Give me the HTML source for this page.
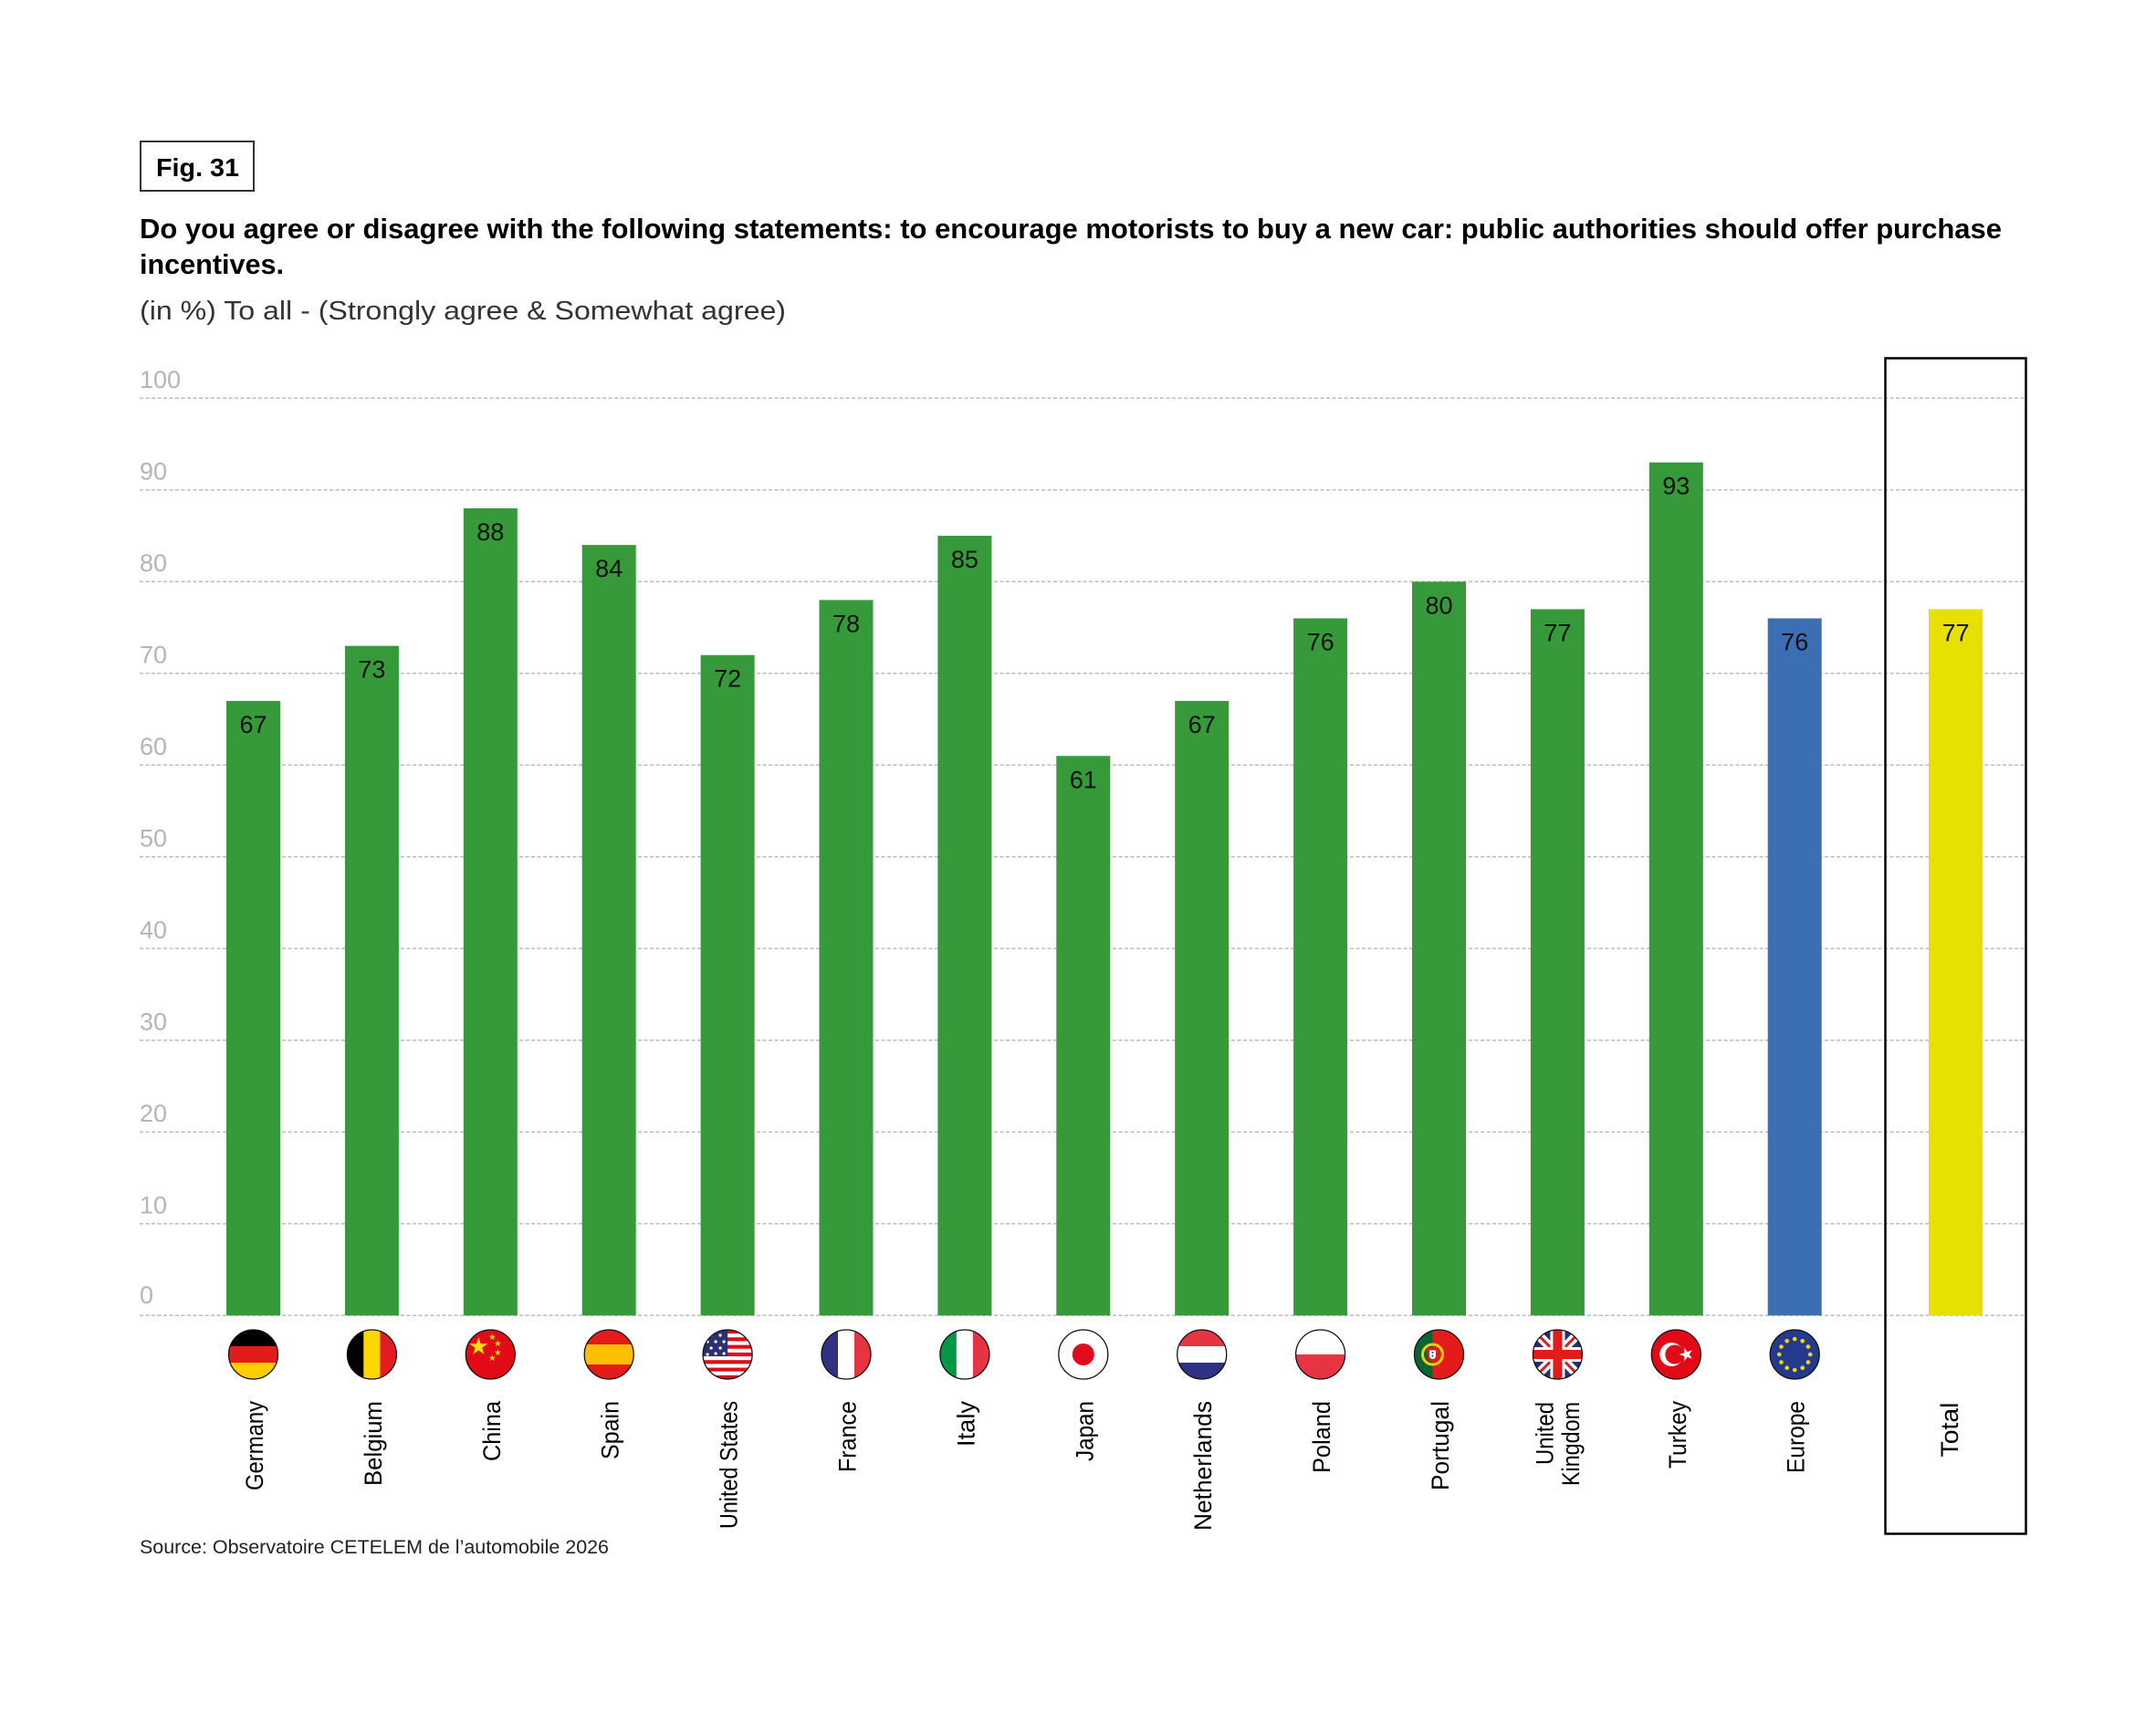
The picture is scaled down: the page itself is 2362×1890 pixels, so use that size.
<!DOCTYPE html>
<html>
<head>
<meta charset="utf-8">
<style>
html,body{margin:0;padding:0;background:#fff;}
svg{display:block;}
text{font-family:"Liberation Sans",Arial,sans-serif;}
</style>
</head>
<body>
<svg width="2362" height="1890" viewBox="0 0 2362 1890" xmlns="http://www.w3.org/2000/svg">
<defs>
  <clipPath id="fc"><circle cx="0" cy="0" r="27"/></clipPath>
</defs>
<rect width="2362" height="1890" fill="#fff"/>

<!-- Fig box -->
<rect x="154" y="155" width="124" height="54" fill="none" stroke="#333" stroke-width="2"/>
<text x="171" y="193" font-size="28" font-weight="bold" fill="#000" textLength="91" lengthAdjust="spacingAndGlyphs">Fig. 31</text>

<!-- Title -->
<text x="153" y="261" font-size="31" font-weight="bold" fill="#000" textLength="2040" lengthAdjust="spacingAndGlyphs">Do you agree or disagree with the following statements: to encourage motorists to buy a new car: public authorities should offer purchase</text>
<text x="153" y="300" font-size="31" font-weight="bold" fill="#000" textLength="158" lengthAdjust="spacingAndGlyphs">incentives.</text>
<text x="153" y="350" font-size="29" fill="#333" textLength="708" lengthAdjust="spacingAndGlyphs">(in %) To all - (Strongly agree &amp; Somewhat agree)</text>

<!-- Gridlines -->
<g stroke="#bdbdbd" stroke-width="1.5" stroke-dasharray="4 2.5">
  <line x1="153" y1="436.3" x2="2219" y2="436.3"/>
  <line x1="153" y1="536.8" x2="2219" y2="536.8"/>
  <line x1="153" y1="637.3" x2="2219" y2="637.3"/>
  <line x1="153" y1="737.8" x2="2219" y2="737.8"/>
  <line x1="153" y1="838.3" x2="2219" y2="838.3"/>
  <line x1="153" y1="938.8" x2="2219" y2="938.8"/>
  <line x1="153" y1="1039.3" x2="2219" y2="1039.3"/>
  <line x1="153" y1="1139.8" x2="2219" y2="1139.8"/>
  <line x1="153" y1="1240.3" x2="2219" y2="1240.3"/>
  <line x1="153" y1="1340.8" x2="2219" y2="1340.8"/>
  <line x1="153" y1="1441.3" x2="2219" y2="1441.3"/>
</g>

<!-- Y labels -->
<g font-size="27" fill="#b5b5b5">
  <text x="153" y="425">100</text>
  <text x="153" y="525.5">90</text>
  <text x="153" y="626">80</text>
  <text x="153" y="726.5">70</text>
  <text x="153" y="827">60</text>
  <text x="153" y="927.5">50</text>
  <text x="153" y="1028">40</text>
  <text x="153" y="1128.5">30</text>
  <text x="153" y="1229">20</text>
  <text x="153" y="1329.5">10</text>
  <text x="153" y="1428">0</text>
</g>

<!-- Total box -->
<rect x="2065.5" y="392.5" width="154" height="1288" fill="none" stroke="#000" stroke-width="2.5"/>

<!-- Bars -->
<g fill="#36993a">
  <rect x="248" y="767.95" width="59" height="673.35"/>
  <rect x="377.9" y="707.65" width="59" height="733.65"/>
  <rect x="507.8" y="556.9" width="59" height="884.4"/>
  <rect x="637.7" y="597.1" width="59" height="844.2"/>
  <rect x="767.6" y="717.7" width="59" height="723.6"/>
  <rect x="897.5" y="657.4" width="59" height="783.9"/>
  <rect x="1027.4" y="587.05" width="59" height="854.25"/>
  <rect x="1157.3" y="828.25" width="59" height="613.05"/>
  <rect x="1287.2" y="767.95" width="59" height="673.35"/>
  <rect x="1417.1" y="677.5" width="59" height="763.8"/>
  <rect x="1547" y="637.3" width="59" height="804"/>
  <rect x="1676.9" y="667.45" width="59" height="773.85"/>
  <rect x="1806.8" y="506.65" width="59" height="934.65"/>
</g>
<rect x="1936.7" y="677.5" width="59" height="763.8" fill="#3c6eb4"/>
<rect x="2113" y="667.45" width="59" height="773.85" fill="#e8e000"/>

<!-- Value labels -->
<g font-size="27" fill="#111" text-anchor="middle">
  <text x="277.5" y="803">67</text>
  <text x="407.4" y="742.7">73</text>
  <text x="537.3" y="592">88</text>
  <text x="667.2" y="632.1">84</text>
  <text x="797.1" y="752.7">72</text>
  <text x="927" y="692.4">78</text>
  <text x="1056.9" y="622">85</text>
  <text x="1186.8" y="863.3">61</text>
  <text x="1316.7" y="803">67</text>
  <text x="1446.6" y="712.5">76</text>
  <text x="1576.5" y="672.3">80</text>
  <text x="1706.4" y="702.5">77</text>
  <text x="1836.3" y="541.7">93</text>
  <text x="1966.2" y="712.5">76</text>
  <text x="2142.5" y="702.5">77</text>
</g>

<!-- Flags -->
<!-- Germany -->
<g transform="translate(277.5,1484)">
  <g clip-path="url(#fc)">
    <rect x="-27" y="-27" width="54" height="18" fill="#000"/>
    <rect x="-27" y="-9" width="54" height="18" fill="#e31b1b"/>
    <rect x="-27" y="9" width="54" height="18" fill="#ffce00"/>
  </g>
  <circle r="27" fill="none" stroke="#111" stroke-width="1.3"/>
</g>
<!-- Belgium -->
<g transform="translate(407.4,1484)">
  <g clip-path="url(#fc)">
    <rect x="-27" y="-27" width="18" height="54" fill="#000"/>
    <rect x="-9" y="-27" width="18" height="54" fill="#fdd800"/>
    <rect x="9" y="-27" width="18" height="54" fill="#e31b23"/>
  </g>
  <circle r="27" fill="none" stroke="#111" stroke-width="1.3"/>
</g>
<!-- China -->
<g transform="translate(537.3,1484)">
  <circle r="27" fill="#e30a17"/>
  <g fill="#ffde00">
    <polygon points="-13,-19 -10.6,-11.7 -3,-11.7 -9.2,-7.2 -6.8,0 -13,-4.5 -19.2,0 -16.8,-7.2 -23,-11.7 -15.4,-11.7"/>
    <polygon points="2,-23 2.9,-20.3 5.7,-20.3 3.4,-18.6 4.3,-15.9 2,-17.6 -0.3,-15.9 0.6,-18.6 -1.7,-20.3 1.1,-20.3"/>
    <polygon points="8,-16 8.9,-13.3 11.7,-13.3 9.4,-11.6 10.3,-8.9 8,-10.6 5.7,-8.9 6.6,-11.6 4.3,-13.3 7.1,-13.3"/>
    <polygon points="8,-6 8.9,-3.3 11.7,-3.3 9.4,-1.6 10.3,1.1 8,-0.6 5.7,1.1 6.6,-1.6 4.3,-3.3 7.1,-3.3"/>
    <polygon points="2,0 2.9,2.7 5.7,2.7 3.4,4.4 4.3,7.1 2,5.4 -0.3,7.1 0.6,4.4 -1.7,2.7 1.1,2.7"/>
  </g>
  <circle r="27" fill="none" stroke="#111" stroke-width="1.3"/>
</g>
<!-- Spain -->
<g transform="translate(667.2,1484)">
  <g clip-path="url(#fc)">
    <rect x="-27" y="-27" width="54" height="54" fill="#e31b1b"/>
    <rect x="-27" y="-11" width="54" height="22" fill="#fcc000"/>
  </g>
  <circle r="27" fill="none" stroke="#111" stroke-width="1.3"/>
</g>
<!-- United States -->
<g transform="translate(797.1,1484)">
  <g clip-path="url(#fc)">
    <rect x="-27" y="-27" width="54" height="54" fill="#fff"/>
    <rect x="-27" y="-27" width="54" height="4.15" fill="#e30a17"/>
    <rect x="-27" y="-18.7" width="54" height="4.15" fill="#e30a17"/>
    <rect x="-27" y="-10.4" width="54" height="4.15" fill="#e30a17"/>
    <rect x="-27" y="-2.1" width="54" height="4.15" fill="#e30a17"/>
    <rect x="-27" y="6.2" width="54" height="4.15" fill="#e30a17"/>
    <rect x="-27" y="14.5" width="54" height="4.15" fill="#e30a17"/>
    <rect x="-27" y="22.8" width="54" height="4.2" fill="#e30a17"/>
    <rect x="-27" y="-27" width="27" height="29" fill="#2b3170"/>
    <g fill="#fff">
      <circle cx="-18" cy="-21" r="1.6"/><circle cx="-8" cy="-21" r="1.6"/>
      <circle cx="-22" cy="-14" r="1.6"/><circle cx="-13" cy="-14" r="1.6"/><circle cx="-4" cy="-14" r="1.6"/>
      <circle cx="-18" cy="-7" r="1.6"/><circle cx="-8" cy="-7" r="1.6"/>
      <circle cx="-22" cy="0" r="1.6"/><circle cx="-13" cy="-1" r="1.6"/><circle cx="-4" cy="-1" r="1.6"/>
    </g>
  </g>
  <circle r="27" fill="none" stroke="#111" stroke-width="1.3"/>
</g>
<!-- France -->
<g transform="translate(927,1484)">
  <g clip-path="url(#fc)">
    <rect x="-27" y="-27" width="18" height="54" fill="#2e3184"/>
    <rect x="-9" y="-27" width="18" height="54" fill="#fff"/>
    <rect x="9" y="-27" width="18" height="54" fill="#e63442"/>
  </g>
  <circle r="27" fill="none" stroke="#111" stroke-width="1.3"/>
</g>
<!-- Italy -->
<g transform="translate(1056.9,1484)">
  <g clip-path="url(#fc)">
    <rect x="-27" y="-27" width="18" height="54" fill="#009846"/>
    <rect x="-9" y="-27" width="18" height="54" fill="#fff"/>
    <rect x="9" y="-27" width="18" height="54" fill="#e63442"/>
  </g>
  <circle r="27" fill="none" stroke="#111" stroke-width="1.3"/>
</g>
<!-- Japan -->
<g transform="translate(1186.8,1484)">
  <circle r="27" fill="#fff"/>
  <circle r="12" fill="#e30a1e"/>
  <circle r="27" fill="none" stroke="#111" stroke-width="1.3"/>
</g>
<!-- Netherlands -->
<g transform="translate(1316.7,1484)">
  <g clip-path="url(#fc)">
    <rect x="-27" y="-27" width="54" height="18" fill="#e63442"/>
    <rect x="-27" y="-9" width="54" height="18" fill="#fff"/>
    <rect x="-27" y="9" width="54" height="18" fill="#2e3184"/>
  </g>
  <circle r="27" fill="none" stroke="#111" stroke-width="1.3"/>
</g>
<!-- Poland -->
<g transform="translate(1446.6,1484)">
  <g clip-path="url(#fc)">
    <rect x="-27" y="-27" width="54" height="27" fill="#fff"/>
    <rect x="-27" y="0" width="54" height="27" fill="#e63442"/>
  </g>
  <circle r="27" fill="none" stroke="#111" stroke-width="1.3"/>
</g>
<!-- Portugal -->
<g transform="translate(1576.5,1484)">
  <g clip-path="url(#fc)">
    <rect x="-27" y="-27" width="54" height="54" fill="#e31b1b"/>
    <rect x="-27" y="-27" width="20" height="54" fill="#0a6432"/>
  </g>
  <circle cx="-7" cy="0" r="11" fill="none" stroke="#f5d000" stroke-width="3"/>
  <path d="M-13,-7 h12 v9 a6,6 0 0 1 -12,0 z" fill="#e31b1b"/>
  <path d="M-10.5,-4.5 h7 v6 a3.5,3.5 0 0 1 -7,0 z" fill="#fff"/>
  <circle cx="-7" cy="-2" r="1" fill="#2e3184"/><circle cx="-7" cy="1.5" r="1" fill="#2e3184"/>
  <circle r="27" fill="none" stroke="#111" stroke-width="1.3"/>
</g>
<!-- United Kingdom -->
<g transform="translate(1706.4,1484)">
  <g clip-path="url(#fc)">
    <rect x="-27" y="-27" width="54" height="54" fill="#2a2f6e"/>
    <line x1="-30" y1="-30" x2="30" y2="30" stroke="#fff" stroke-width="10"/>
    <line x1="30" y1="-30" x2="-30" y2="30" stroke="#fff" stroke-width="10"/>
    <line x1="-30" y1="-30" x2="30" y2="30" stroke="#e31b1b" stroke-width="3"/>
    <line x1="30" y1="-30" x2="-30" y2="30" stroke="#e31b1b" stroke-width="3"/>
    <rect x="-8" y="-27" width="16" height="54" fill="#fff"/>
    <rect x="-27" y="-8" width="54" height="16" fill="#fff"/>
    <rect x="-5" y="-27" width="10" height="54" fill="#e31b1b"/>
    <rect x="-27" y="-5" width="54" height="10" fill="#e31b1b"/>
  </g>
  <circle r="27" fill="none" stroke="#111" stroke-width="1.3"/>
</g>
<!-- Turkey -->
<g transform="translate(1836.3,1484)">
  <circle r="27" fill="#e30a17"/>
  <circle cx="-5" cy="0" r="13" fill="#fff"/>
  <circle cx="-1.5" cy="0" r="10.5" fill="#e30a17"/>
  <polygon fill="#fff" points="5,0 11.5,-2.1 11.5,-8.9 15.5,-3.4 22,-5.5 18,0 22,5.5 15.5,3.4 11.5,8.9 11.5,2.1" transform="translate(-1,0) scale(0.85)"/>
  <circle r="27" fill="none" stroke="#111" stroke-width="1.3"/>
</g>
<!-- Europe -->
<g transform="translate(1966.2,1484)">
  <circle r="27" fill="#243a8c"/>
  <g fill="#ffd500">
    <circle cx="0" cy="-17" r="2.3"/>
    <circle cx="8.5" cy="-14.7" r="2.3"/>
    <circle cx="14.7" cy="-8.5" r="2.3"/>
    <circle cx="17" cy="0" r="2.3"/>
    <circle cx="14.7" cy="8.5" r="2.3"/>
    <circle cx="8.5" cy="14.7" r="2.3"/>
    <circle cx="0" cy="17" r="2.3"/>
    <circle cx="-8.5" cy="14.7" r="2.3"/>
    <circle cx="-14.7" cy="8.5" r="2.3"/>
    <circle cx="-17" cy="0" r="2.3"/>
    <circle cx="-14.7" cy="-8.5" r="2.3"/>
    <circle cx="-8.5" cy="-14.7" r="2.3"/>
  </g>
  <circle r="27" fill="none" stroke="#111" stroke-width="1.3"/>
</g>

<!-- Country labels -->
<g font-size="27" fill="#000" text-anchor="end">
  <text transform="translate(288,1535) rotate(-90)" textLength="98" lengthAdjust="spacingAndGlyphs">Germany</text>
  <text transform="translate(417.9,1535) rotate(-90)" textLength="93" lengthAdjust="spacingAndGlyphs">Belgium</text>
  <text transform="translate(547.8,1535) rotate(-90)" textLength="66" lengthAdjust="spacingAndGlyphs">China</text>
  <text transform="translate(677.7,1535) rotate(-90)" textLength="64" lengthAdjust="spacingAndGlyphs">Spain</text>
  <text transform="translate(807.6,1535) rotate(-90)" textLength="140" lengthAdjust="spacingAndGlyphs">United States</text>
  <text transform="translate(937.5,1535) rotate(-90)" textLength="78" lengthAdjust="spacingAndGlyphs">France</text>
  <text transform="translate(1067.4,1535) rotate(-90)" textLength="50" lengthAdjust="spacingAndGlyphs">Italy</text>
  <text transform="translate(1197.3,1535) rotate(-90)" textLength="66" lengthAdjust="spacingAndGlyphs">Japan</text>
  <text transform="translate(1327.2,1535) rotate(-90)" textLength="142" lengthAdjust="spacingAndGlyphs">Netherlands</text>
  <text transform="translate(1457.1,1535) rotate(-90)" textLength="79" lengthAdjust="spacingAndGlyphs">Poland</text>
  <text transform="translate(1587,1535) rotate(-90)" textLength="98" lengthAdjust="spacingAndGlyphs">Portugal</text>
  <text transform="translate(1701.7,1536) rotate(-90)" textLength="69" lengthAdjust="spacingAndGlyphs">United</text>
  <text transform="translate(1730,1536) rotate(-90)" textLength="92" lengthAdjust="spacingAndGlyphs">Kingdom</text>
  <text transform="translate(1846.8,1535) rotate(-90)" textLength="74" lengthAdjust="spacingAndGlyphs">Turkey</text>
  <text transform="translate(1976.7,1535) rotate(-90)" textLength="79" lengthAdjust="spacingAndGlyphs">Europe</text>
  <text transform="translate(2145,1536.5) rotate(-90)" textLength="60" lengthAdjust="spacingAndGlyphs">Total</text>
</g>

<!-- Source -->
<text x="153" y="1702" font-size="21" fill="#222" textLength="514" lengthAdjust="spacingAndGlyphs">Source: Observatoire CETELEM de l’automobile 2026</text>
</svg>
</body>
</html>
